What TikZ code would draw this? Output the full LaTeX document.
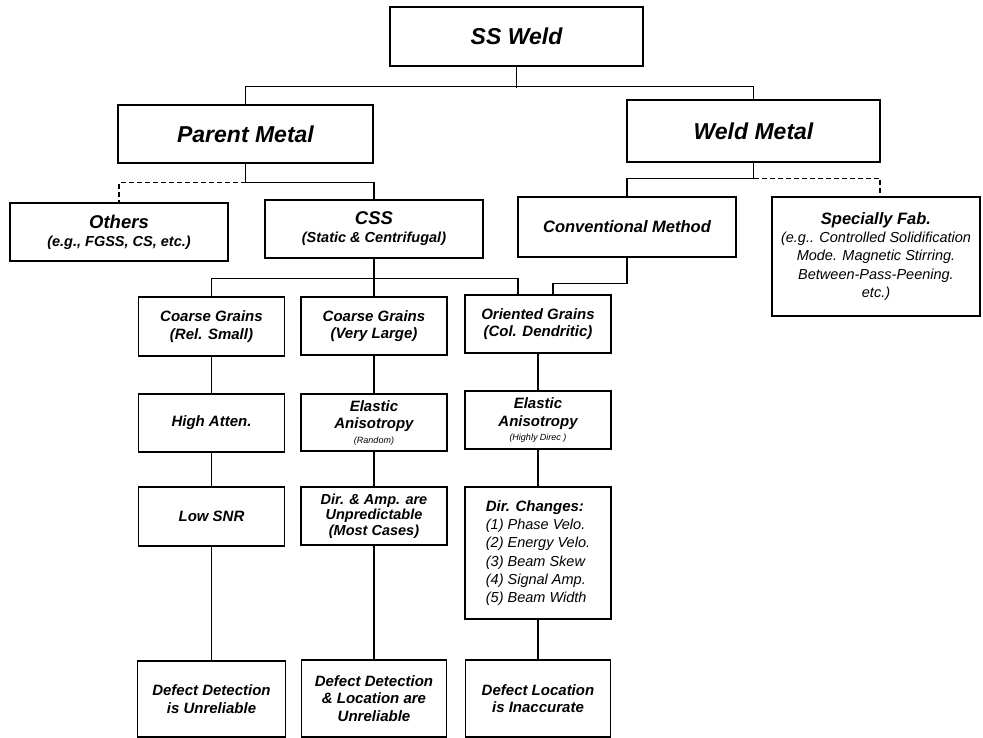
\documentclass[tikz,border=0pt]{standalone}
\usepackage{fontspec}
\setmainfont{Liberation Sans}
\usetikzlibrary{positioning}

\newcommand\subtxt[1]{{\mdseries\itshape #1}}

\begin{document}
\begin{tikzpicture}[x=1pt,y=-1pt,
  box/.style={draw,line width=1.1pt,inner sep=2pt,align=center},
  wire/.style={line width=1.2pt},
  optional/.style={wire,dash pattern=on 5pt off 3pt},
  fbig/.style={font=\bfseries\itshape\fontsize{23}{27}\selectfont},
  fmid/.style={font=\bfseries\itshape\fontsize{18.5}{20}\selectfont},
  fconv/.style={font=\bfseries\itshape\fontsize{16.5}{19}\selectfont},
  fsmall/.style={font=\bfseries\itshape\fontsize{15}{17.5}\selectfont},
  flist/.style={font=\mdseries\itshape\fontsize{14.5}{18.3}\selectfont},
  colbox/.style={box,fsmall,minimum width=146pt}]
  \useasboundingbox (0,0) rectangle (983,738);

  % top levels
  \node [box,fbig,minimum width=253pt,minimum height=59pt] (ssweld) at (516.5,36.5) {SS Weld};
  \node [box,fbig,minimum width=255pt,minimum height=58pt] (parent) at (245.5,134) {Parent Metal};
  \node [box,fbig,minimum width=253pt,minimum height=62pt] (weldmetal) at (753.5,131) {Weld Metal};

  \node [box,fmid,minimum width=218pt,minimum height=58pt] (others) at (119,232)
    {Others\\[-2pt]{\fontsize{14.5}{16}\selectfont (e.g., FGSS, CS, etc.)}};
  \node [box,fmid,minimum width=218pt,minimum height=58pt] (css) at (374,229)
    {CSS\\[-2pt]{\fontsize{14.5}{16}\selectfont (Static \& Centrifugal)}};
  \node [box,fconv,minimum width=218pt,minimum height=60pt] (conv) at (627,227) {Conventional Method};
  \node [box,flist,minimum width=208pt,minimum height=119pt] (special) at (876,256.5)
    {{\bfseries\fontsize{16.5}{19}\selectfont Specially Fab.}\\(e.g.. Controlled Solidification\\Mode. Magnetic Stirring.\\Between-Pass-Peening.\\etc.)};

  % grain columns
  \node [colbox,minimum height=59pt] (grainsA) at (211.5,326.5) {Coarse Grains\\(Rel. Small)};
  \node [colbox,minimum height=58pt] (grainsB) at (374,326) {Coarse Grains\\(Very Large)};
  \node [colbox,minimum height=58pt] (grainsC) at (538,324) {Oriented Grains\\(Col. Dendritic)};

  \node [colbox,minimum height=58pt] (attenA) at (211.5,423) {High Atten.};
  \node [colbox,minimum height=57pt] (anisoB) at (374,422.5)
    {Elastic\\Anisotropy\\[-3pt]{\fontsize{9}{11}\selectfont\subtxt{(Random)}}};
  \node [colbox,minimum height=58pt] (anisoC) at (538,420)
    {Elastic\\Anisotropy\\[-3pt]{\fontsize{9}{11}\selectfont\subtxt{(Highly Direc )}}};

  \node [colbox,minimum height=59pt] (snrA) at (211.5,516.5) {Low SNR};
  \node [colbox,minimum height=58pt,font=\bfseries\itshape\fontsize{14.5}{15.5}\selectfont] (dirampB) at (374,516)
    {Dir. \& Amp. are\\Unpredictable\\(Most Cases)};
  \node [colbox,flist,minimum height=132pt,align=left] (dirchgC) at (538,553)
    {{\bfseries\fontsize{15}{17.5}\selectfont Dir. Changes:}\\(1) Phase Velo.\\(2) Energy Velo.\\(3) Beam Skew\\(4) Signal Amp.\\(5) Beam Width};

  \node [colbox,minimum width=148pt,minimum height=76pt] (defectA) at (211.5,699) {Defect Detection\\is Unreliable};
  \node [colbox,minimum width=145pt,minimum height=77pt] (defectB) at (374,698.5) {Defect Detection\\\& Location are\\Unreliable};
  \node [colbox,minimum width=145pt,minimum height=77pt] (defectC) at (538,698.5) {Defect Location\\is Inaccurate};

  % connectors
  \draw [wire] (ssweld.south) -- ++(0,21);
  \draw [wire] (parent.north) -- ++(0,-18) -| (weldmetal.north);

  \draw [wire] (parent.south) -- ++(0,19) -| (css.north);
  \draw [optional] (parent.south) ++(0,19) -| (others.north);

  \draw [wire] (weldmetal.south) -- ++(0,16) -| (conv.north);
  \draw [optional] (weldmetal.south) ++(0,16) -| ([xshift=4pt]special.north);

  \draw [wire] (css.south) -- ++(0,20) -| (grainsA.north);
  \draw [wire] (css.south) ++(0,20) -| ([xshift=-20pt]grainsC.north);
  \draw [wire] (css.south) -- (grainsB.north);
  \draw [wire] (conv.south) -- ++(0,26) -| ([xshift=15pt]grainsC.north);

  \foreach \a/\b in {grainsA/attenA,attenA/snrA,snrA/defectA,
                     grainsB/anisoB,anisoB/dirampB,dirampB/defectB,
                     grainsC/anisoC,anisoC/dirchgC,dirchgC/defectC}
    \draw [wire] (\a.south) -- (\b.north);
\end{tikzpicture}
\end{document}
